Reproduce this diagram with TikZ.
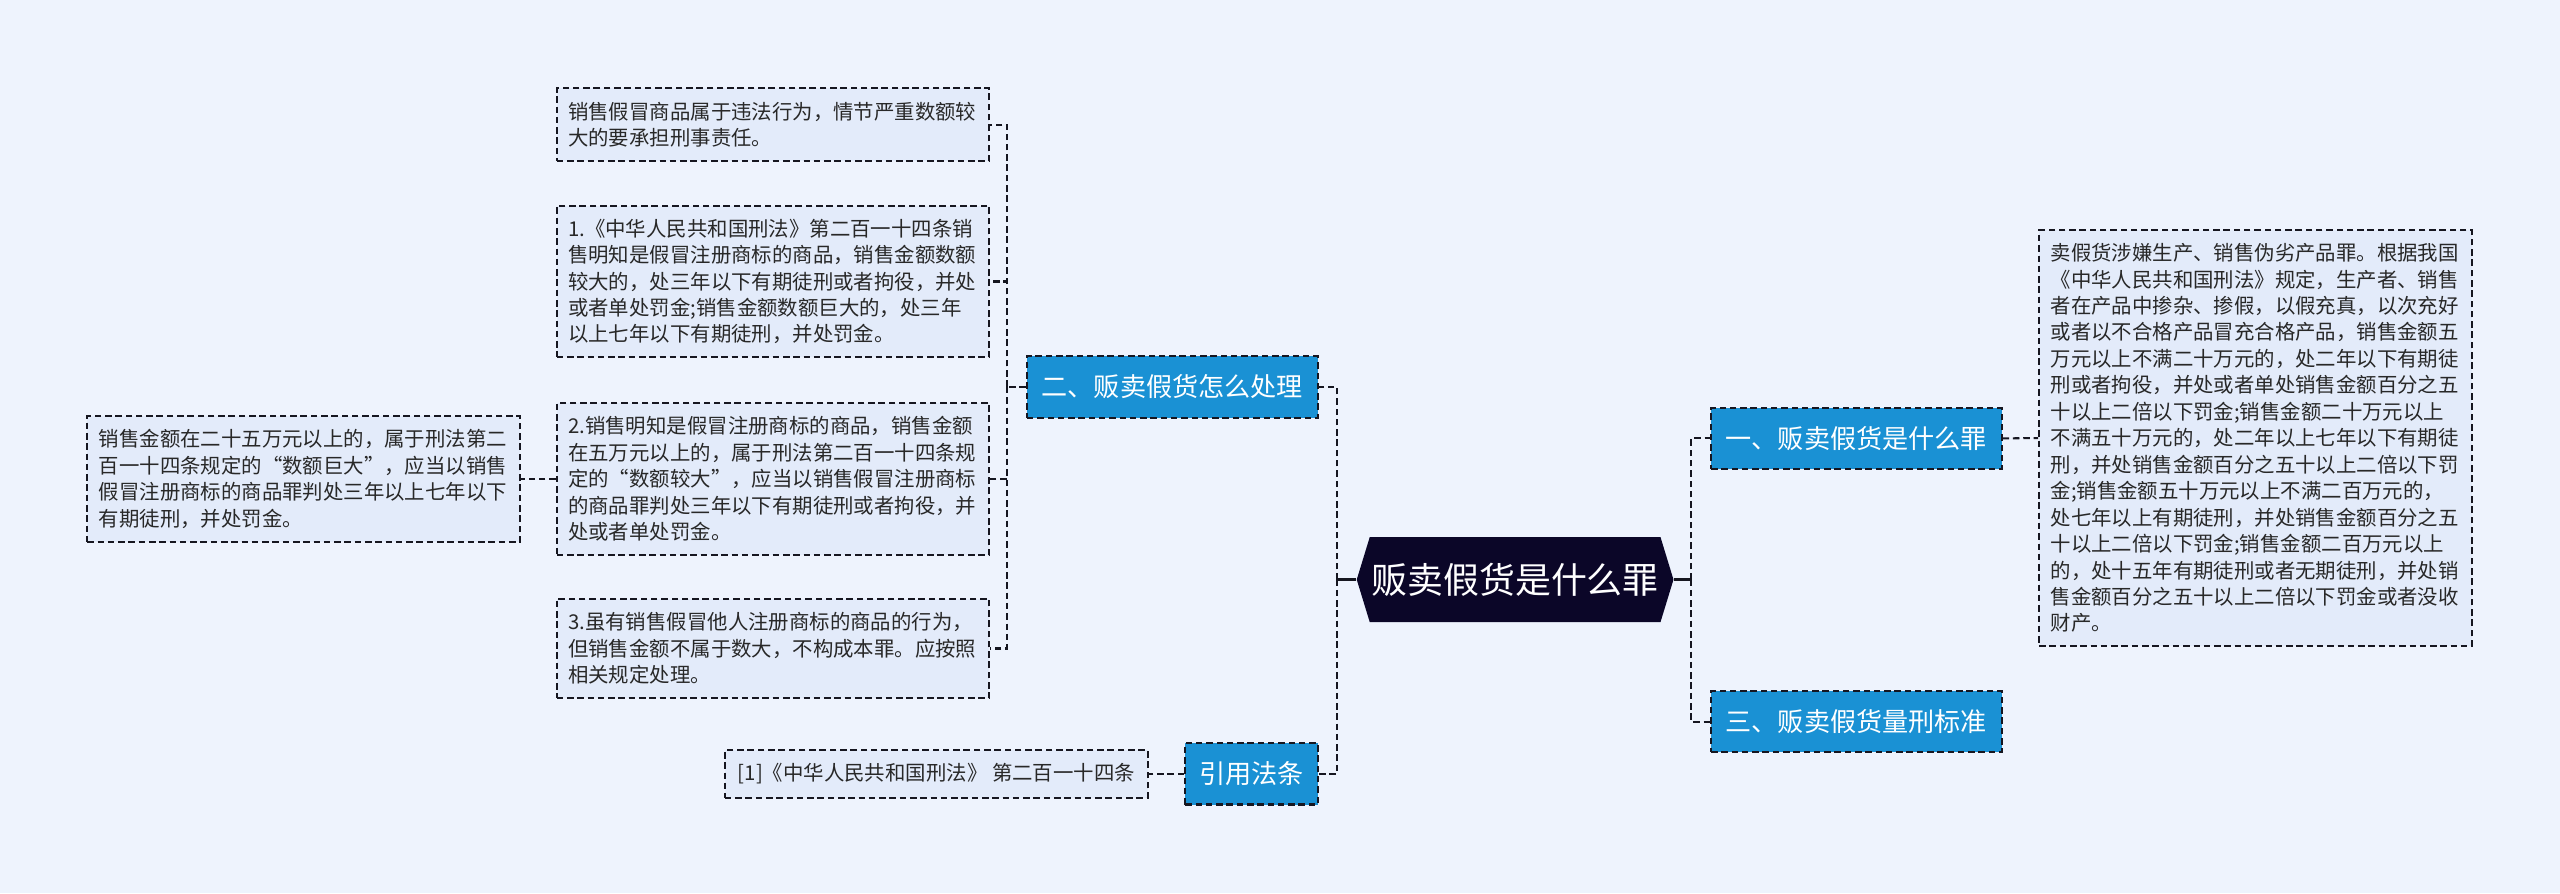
\documentclass[tikz,border=0pt]{standalone}
\usepackage{fontspec}
\setmainfont{Noto Sans CJK SC}
\usepackage{tikz}
\usetikzlibrary{shapes.symbols, positioning}

\definecolor{bg}{RGB}{238,243,253}
\definecolor{leaffill}{RGB}{227,235,250}
\definecolor{topicblue}{RGB}{26,145,212}
\definecolor{rootnavy}{RGB}{11,6,40}
\definecolor{inkgray}{RGB}{40,40,40}
\definecolor{linkgray}{RGB}{22,22,32}

\tikzset{
  link/.style={draw=linkgray, line width=1.25pt, dash pattern=on 4pt off 2.3pt},
  stem/.style={draw=linkgray, line width=1.6pt},
  leaf/.style={link, fill=leaffill, text=inkgray, align=left,
    text width=251pt, inner xsep=7pt, inner ysep=3pt,
    font=\fontsize{12.5}{16.2}\selectfont},
  topic/.style={link, fill=topicblue, text=white, inner sep=0pt,
    minimum width=178pt, minimum height=37.5pt,
    font=\fontsize{16}{19}\selectfont},
  root/.style={signal, signal to=west and east, signal pointer angle=146,
    fill=rootnavy, text=white, inner sep=0pt,
    minimum width=194pt, minimum height=52pt,
    font=\fontsize{22}{24}\selectfont}
}

\begin{document}
\begin{tikzpicture}[x=1pt, y=-1pt]
      \fill[bg] (0,0) rectangle (1568,547);
      \useasboundingbox (0,0) rectangle (1568,547);

      \node[root] (root) at (928,355) {贩卖假货是什么罪};
      \node[topic] (crime) at (1137,268.5) {一、贩卖假货是什么罪};
      \node[topic] (penalty) at (1137,442) {三、贩卖假货量刑标准};
      \node[topic] (handle) at (718,237) {二、贩卖假货怎么处理};
      \node[topic, minimum width=81pt] (lawref) at (766.5,474) {引用法条};

      \coordinate (ltrunk) at (819,355);
      \coordinate (rtrunk) at (1036,355);
      \coordinate (htrunk) at (617,237);

      \node[leaf, minimum height=254.6pt] (crimetext) at (1381.5,268.3)
      {卖假货涉嫌生产、销售伪劣产品罪。根据我国\\
        《中华人民共和国刑法》规定，生产者、销售\\
        者在产品中掺杂、掺假，以假充真，以次充好\\
        或者以不合格产品冒充合格产品，销售金额五\\
        万元以上不满二十万元的，处二年以下有期徒\\
        刑或者拘役，并处或者单处销售金额百分之五\\
        十以上二倍以下罚金;销售金额二十万元以上\\
        不满五十万元的，处二年以上七年以下有期徒\\
        刑，并处销售金额百分之五十以上二倍以下罚\\
        金;销售金额五十万元以上不满二百万元的，\\
        处七年以上有期徒刑，并处销售金额百分之五\\
        十以上二倍以下罚金;销售金额二百万元以上\\
        的，处十五年有期徒刑或者无期徒刑，并处销\\
        售金额百分之五十以上二倍以下罚金或者没收\\
        财产。};

      \node[leaf, minimum height=44.6pt] (illegal) at (473.5,76.3)
      {销售假冒商品属于违法行为，情节严重数额较\\
        大的要承担刑事责任。};
      \node[leaf, minimum height=92.7pt] (art1) at (473.5,172.4)
      {1.《中华人民共和国刑法》第二百一十四条销\\
        售明知是假冒注册商标的商品，销售金额数额\\
        较大的，处三年以下有期徒刑或者拘役，并处\\
        或者单处罚金;销售金额数额巨大的，处三年\\
        以上七年以下有期徒刑，并处罚金。};
      \node[leaf, minimum height=93.1pt] (art2) at (473.5,293.3)
      {2.销售明知是假冒注册商标的商品，销售金额\\
        在五万元以上的，属于刑法第二百一十四条规\\
        定的“数额较大”，应当以销售假冒注册商标\\
        的商品罪判处三年以下有期徒刑或者拘役，并\\
        处或者单处罚金。};
      \node[leaf, minimum height=60.9pt] (art3) at (473.5,397.2)
      {3.虽有销售假冒他人注册商标的商品的行为，\\
        但销售金额不属于数大，不构成本罪。应按照\\
        相关规定处理。};
      \node[leaf, minimum height=77pt] (huge) at (186,293.3)
      {销售金额在二十五万元以上的，属于刑法第二\\
        百一十四条规定的“数额巨大”，应当以销售\\
        假冒注册商标的商品罪判处三年以上七年以下\\
        有期徒刑，并处罚金。};
      \node[link, fill=leaffill, text=inkgray, inner sep=0pt,
        minimum width=259pt, minimum height=29pt,
        font=\fontsize{12.5}{15}\selectfont] (cite) at (573.5,474)
      {[1]《中华人民共和国刑法》 第二百一十四条};

      \draw[stem] (root.west) -- (ltrunk);
      \draw[stem] (root.east) -- (rtrunk);
      \draw[link] (ltrunk) |- (handle.east);
      \draw[link] (ltrunk) |- (lawref.east);
      \draw[link] (rtrunk) |- (crime.west);
      \draw[link] (rtrunk) |- (penalty.west);
      \draw[link] (crime.east) -- (crimetext.west);
      \draw[link] (handle.west) -- (htrunk);
      \draw[link] (htrunk) |- (illegal.east);
      \draw[link] (htrunk) |- (art1.east);
      \draw[link] (htrunk) |- (art2.east);
      \draw[link] (htrunk) |- (art3.east);
      \draw[link] (art2.west) -- (huge.east);
      \draw[link] (lawref.west) -- (cite.east);
    \end{tikzpicture}
\end{document}
